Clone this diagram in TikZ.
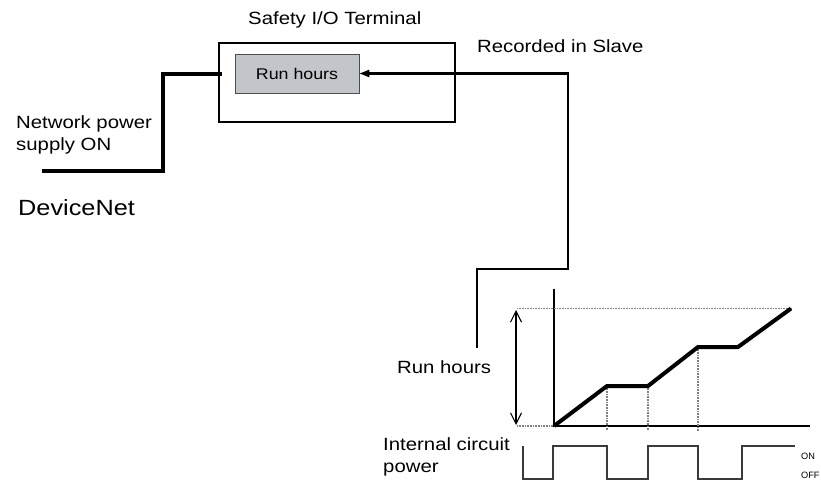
\documentclass[tikz,border=0pt]{standalone}
\usepackage{fontspec}
\setmainfont{Liberation Sans}
\newfontfamily\lab[FakeStretch=1.15]{Liberation Sans}
\newfontfamily\labsmall{Liberation Sans}
\usetikzlibrary{arrows.meta}
\definecolor{boxgray}{HTML}{C2C5CA}
\definecolor{wavegray}{HTML}{3A3A3A}
\begin{document}
\begin{tikzpicture}[x=1pt,y=-1pt,
  txt/.style={font=\lab\fontsize{17.7}{22}\selectfont, inner sep=0pt, anchor=base west, align=left},
  small/.style={font=\labsmall\fontsize{9.2}{10}\selectfont, inner sep=0pt, anchor=base west},
  termbox/.style={draw, line width=2.3pt, minimum width=236pt, minimum height=79pt, inner sep=0pt},
  runbox/.style={draw=black!70, fill=boxgray, line width=0.8pt, minimum width=124pt, minimum height=39pt, inner sep=0pt, font=\lab\fontsize{15.5}{18}\selectfont},
  power/.style={line width=4.5pt},
  signal/.style={line width=2.3pt, -{Triangle[length=10pt,width=7pt]}},
  axis/.style={line width=1.1pt},
  dots/.style={gray, line width=1.3pt, dash pattern=on 0.8pt off 0.8pt},
  curve/.style={line width=4pt, line join=miter},
  wave/.style={wavegray, line width=1.4pt},
  dim/.style={line width=1.1pt, {Straight Barb[length=11pt,width=11pt]}-{Straight Barb[length=11pt,width=11pt]}}
]
\useasboundingbox (0,0) rectangle (821,481);

% Safety I/O Terminal
\node[termbox] (term) at (337,82.5) {};
\node[runbox] (run) at (297,73.5) {Run hours};
\node[txt] (tlabel) at (248,25) {Safety I/O Terminal};
\node[txt] (rec) at (477,53) {Recorded in Slave};

% network power line
\coordinate (p0) at (42,171);
\coordinate (p1) at (163,171);
\coordinate (p2) at (163,74);
\coordinate (p3) at (222,74);
\draw[power] (p0) -- (p1) -- (p2) -- (p3);
\node[txt] (npow) at (16,151) {Network power\\supply ON};
\node[txt, font=\lab\fontsize{22}{26}\selectfont] (dnet) at (18,215) {DeviceNet};

% recording signal
\coordinate (s0) at (477,348);
\coordinate (s1) at (477,269);
\coordinate (s2) at (568,269);
\coordinate (s3) at (568,73.5);
\draw[signal] (s0) -- (s1) -- (s2) -- (s3) -- (run.east);

% chart
\coordinate (o) at (554,426);
\coordinate (ytop) at (554,289);
\coordinate (xend) at (810,426);
\draw[axis] (ytop) -- (o) -- (xend);
\coordinate (c1) at (607,386);
\coordinate (c2) at (648,386);
\coordinate (c3) at (698,347);
\coordinate (c4) at (738,347);
\coordinate (c5) at (791,308.5);
\coordinate (dl) at (517,308.5);
\coordinate (dl0) at (517,426);
\draw[dots] (dl) -- (c5);
\draw[dots] (dl0) -- (o);
\draw[dots] (c1) -- (607,430);
\draw[dots] (c2) -- (648,430);
\draw[dots] (c3) -- (698,431);
\coordinate (a1) at (516,310);
\coordinate (a2) at (516,425);
\draw[dim] (a1) -- (a2);
\draw[curve] (o) -- (c1) -- (c2) -- (c3) -- (c4) -- (c5);
\node[txt] (rh) at (397,373) {Run hours};

% internal circuit power
\draw[wave] (523,446) -- (523,479) -- (553,479) -- (553,446) -- (607,446) -- (607,479)
  -- (648,479) -- (648,446) -- (698,446) -- (698,479) -- (742,479) -- (742,446) -- (795,446);
\node[txt] (icp) at (383,472) {Internal circuit\\power};
\node[small] (on) at (801,459) {ON};
\node[small] (off) at (801,478) {OFF};
\end{tikzpicture}
\end{document}
